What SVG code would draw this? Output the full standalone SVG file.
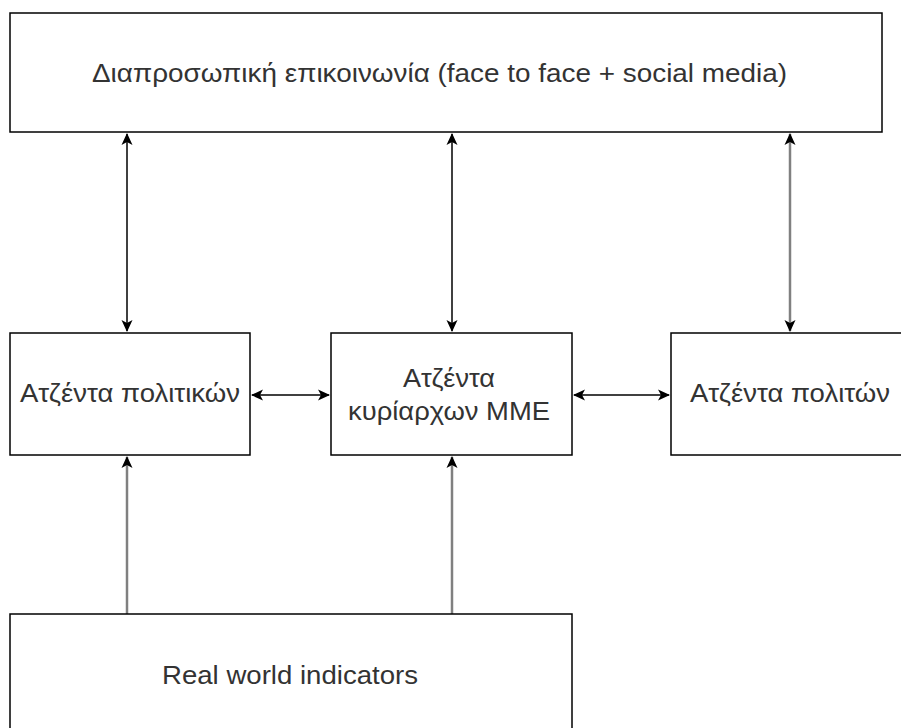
<svg xmlns="http://www.w3.org/2000/svg" width="901" height="728" viewBox="0 0 901 728">
<style>
.box{fill:#fff;stroke:#000;stroke-width:1.5}
.t{font-family:"Liberation Sans",Arial,sans-serif;font-size:26px;fill:#333}
.k{stroke:#000;stroke-width:1.5;fill:none}
.g{stroke:#808080;stroke-width:2.5;fill:none}
</style>
<defs>
<marker id="ah" viewBox="0 0 12 12" refX="11" refY="6" markerWidth="13" markerHeight="12" markerUnits="userSpaceOnUse" orient="auto-start-reverse">
<path d="M0,0.5 L12,6 L0,11.5 L3,6 Z" fill="#000"/>
</marker>
</defs>
<rect width="901" height="728" fill="#fff"/>
<g id="connectors">
<line class="k" x1="127" y1="134" x2="127" y2="331" marker-start="url(#ah)" marker-end="url(#ah)"/>
<line class="k" x1="452" y1="134" x2="452" y2="331" marker-start="url(#ah)" marker-end="url(#ah)"/>
<line class="g" x1="790" y1="134" x2="790" y2="331" marker-start="url(#ah)" marker-end="url(#ah)"/>
<line class="k" x1="252" y1="395" x2="329" y2="395" marker-start="url(#ah)" marker-end="url(#ah)"/>
<line class="k" x1="574" y1="395" x2="669" y2="395" marker-start="url(#ah)" marker-end="url(#ah)"/>
<line class="g" x1="127" y1="614" x2="127" y2="457" marker-end="url(#ah)"/>
<line class="g" x1="452" y1="614" x2="452" y2="457" marker-end="url(#ah)"/>
</g>
<g id="top">
<rect class="box" x="10" y="13" width="872" height="119"/>
<text class="t" x="92" y="82" textLength="695" lengthAdjust="spacingAndGlyphs">Διαπροσωπική επικοινωνία (face to face + social media)</text>
</g>
<g id="politicians">
<rect class="box" x="10" y="333" width="240" height="122"/>
<text class="t" x="20" y="402" textLength="220" lengthAdjust="spacingAndGlyphs">Ατζέντα πολιτικών</text>
</g>
<g id="media">
<rect class="box" x="331" y="333" width="241" height="122"/>
<text class="t" x="403" y="387" textLength="92" lengthAdjust="spacingAndGlyphs">Ατζέντα</text>
<text class="t" x="348" y="420" textLength="202" lengthAdjust="spacingAndGlyphs">κυρίαρχων ΜΜΕ</text>
</g>
<g id="citizens">
<rect class="box" x="671" y="333" width="241" height="122"/>
<text class="t" x="690" y="402" textLength="200" lengthAdjust="spacingAndGlyphs">Ατζέντα πολιτών</text>
</g>
<g id="real">
<rect class="box" x="10" y="614" width="562" height="130"/>
<text class="t" x="162" y="684" textLength="256" lengthAdjust="spacingAndGlyphs">Real world indicators</text>
</g>
</svg>
